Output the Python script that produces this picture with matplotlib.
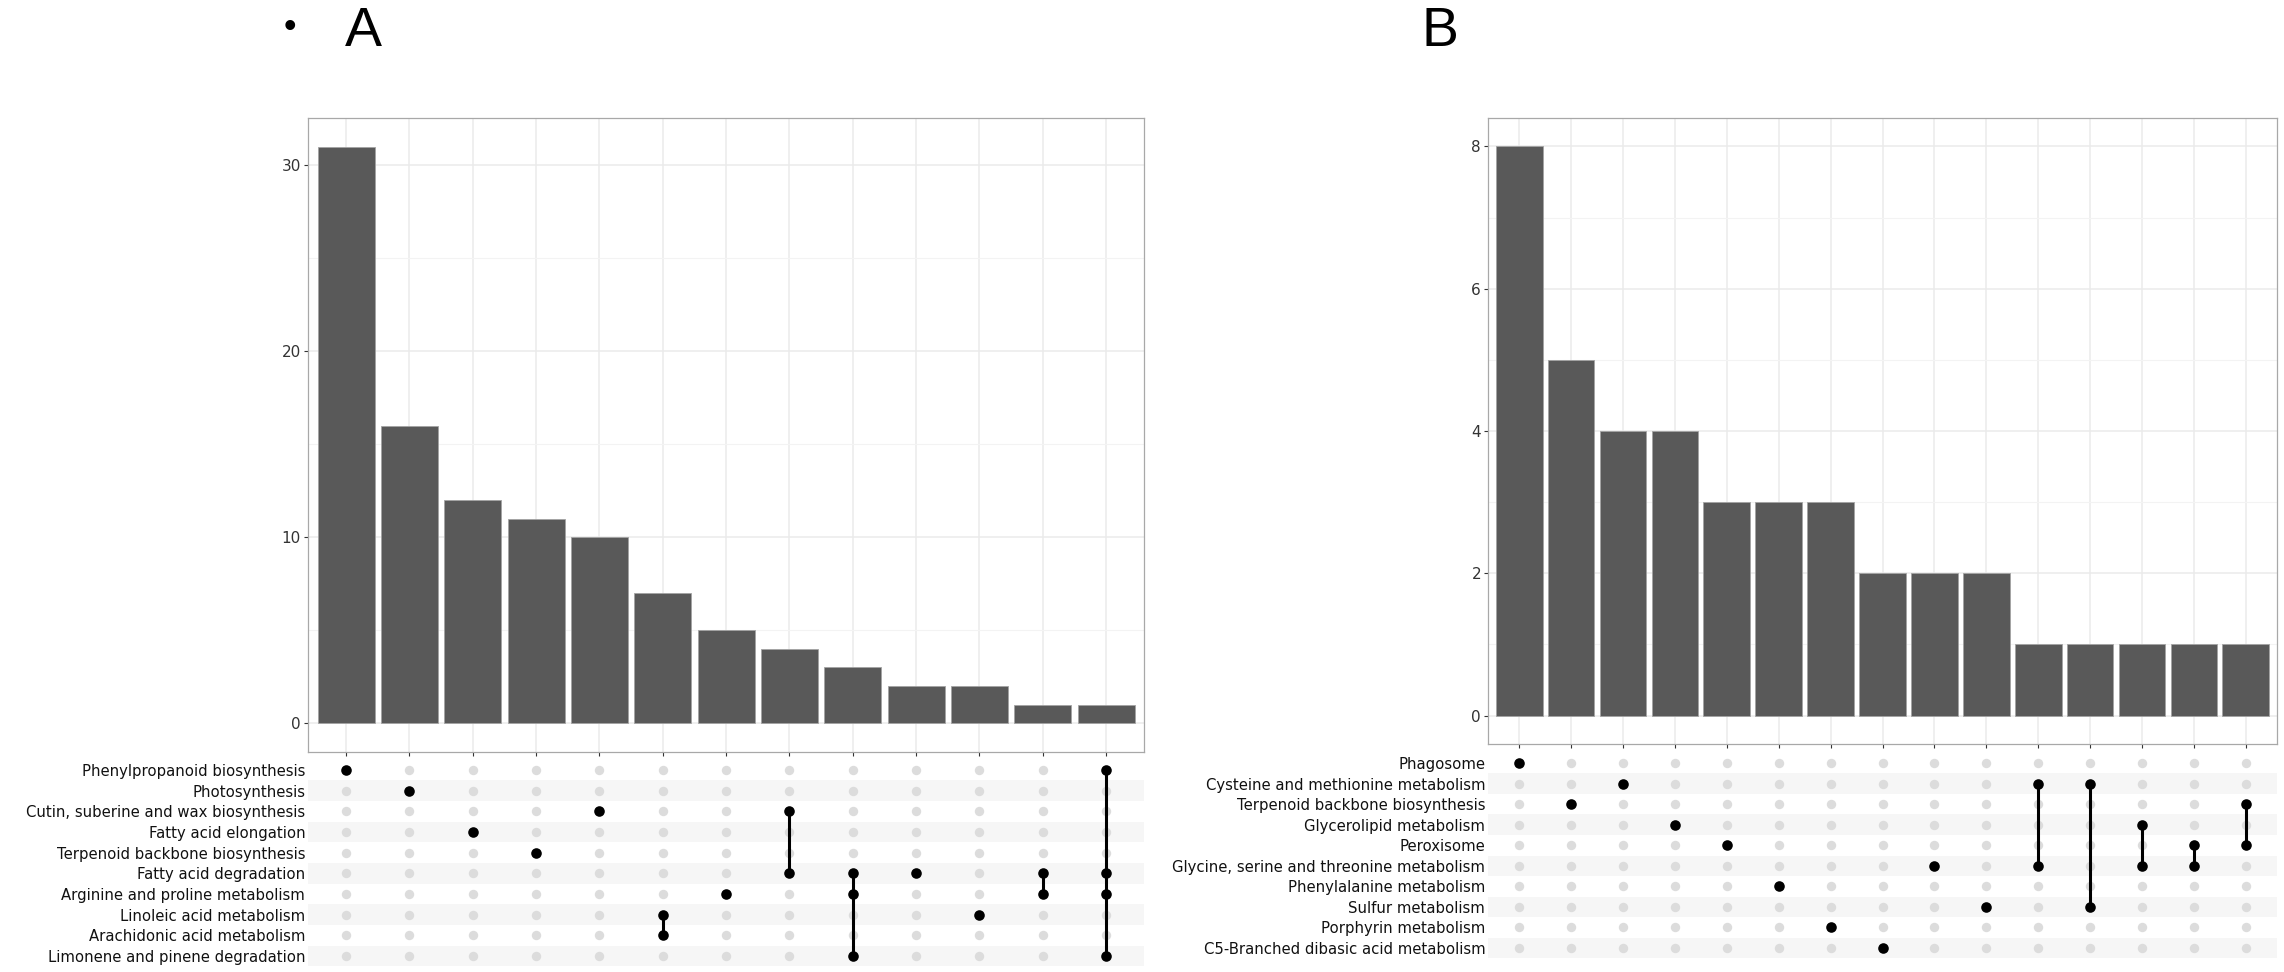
import numpy as np
import matplotlib
matplotlib.use("Agg")
import matplotlib.pyplot as plt
from matplotlib.ticker import MultipleLocator

W, H = 2284, 972

# panel A data
sets_a = ["Phenylpropanoid biosynthesis", "Photosynthesis",
          "Cutin, suberine and wax biosynthesis", "Fatty acid elongation",
          "Terpenoid backbone biosynthesis", "Fatty acid degradation",
          "Arginine and proline metabolism", "Linoleic acid metabolism",
          "Arachidonic acid metabolism", "Limonene and pinene degradation"]
counts_a = [31, 16, 12, 11, 10, 7, 5, 4, 3, 2, 2, 1, 1]
members_a = [[0], [1], [3], [4], [2], [7, 8], [6], [2, 5], [5, 6, 9],
             [5], [7], [5, 6], [0, 5, 6, 9]]

# panel B data
sets_b = ["Phagosome", "Cysteine and methionine metabolism",
          "Terpenoid backbone biosynthesis", "Glycerolipid metabolism",
          "Peroxisome", "Glycine, serine and threonine metabolism",
          "Phenylalanine metabolism", "Sulfur metabolism",
          "Porphyrin metabolism", "C5-Branched dibasic acid metabolism"]
counts_b = [8, 5, 4, 4, 3, 3, 3, 2, 2, 2, 1, 1, 1, 1, 1]
members_b = [[0], [2], [1], [3], [4], [6], [8], [9], [5], [7],
             [1, 5], [1, 7], [3, 5], [4, 5], [2, 4]]

GRID = "#ebebeb"
BORDER = "#a8a8a8"
TXT = "#333333"


def px_axes(fig, x0, y0, x1, y1):
    # pixel box (top-left origin) -> figure axes
    return fig.add_axes([x0 / W, 1 - y1 / H, (x1 - x0) / W, (y1 - y0) / H])


def upset_panel(fig, bar_box, mat_box, counts, members, sets, major, minor):
    n = len(counts)
    top = max(counts)

    ax = px_axes(fig, *bar_box)
    ax.bar(range(n), counts, width=0.9, color="#595959",
           edgecolor="#a3a3a3", linewidth=0.6, zorder=3)
    ax.set_xlim(-0.6, n - 0.4)
    ax.set_ylim(-0.05 * top, 1.05 * top)
    ax.yaxis.set_major_locator(MultipleLocator(major))
    ax.yaxis.set_minor_locator(MultipleLocator(minor))
    ax.set_xticks(range(n))
    ax.set_xticklabels([])
    ax.grid(True, which="major", color=GRID, linewidth=1.1, zorder=0)
    ax.grid(True, which="minor", axis="y", color="#f3f3f3", linewidth=0.8, zorder=0)
    ax.tick_params(axis="y", which="minor", length=0)
    ax.tick_params(axis="both", which="major", length=3, width=0.8,
                   color=TXT, labelsize=11, labelcolor=TXT, pad=2)
    for s in ax.spines.values():
        s.set_color(BORDER)
        s.set_linewidth(0.9)
    ax.set_axisbelow(True)

    mx = px_axes(fig, *mat_box)
    m = len(sets)
    mx.set_xlim(-0.6, n - 0.4)
    mx.set_ylim(m - 0.5, -0.5)
    for r in range(m):
        if r % 2 == 1:
            mx.axhspan(r - 0.5, r + 0.5, color="#f6f6f6", zorder=0, lw=0)
    xs, ys = np.meshgrid(np.arange(n), np.arange(m))
    mx.scatter(xs.ravel(), ys.ravel(), s=46, color="#dcdcdc", zorder=1, lw=0)
    for c, rows in enumerate(members):
        if len(rows) > 1:
            mx.plot([c, c], [min(rows), max(rows)], color="black", lw=2.2, zorder=2)
        mx.scatter([c] * len(rows), rows, s=58, color="black", zorder=3, lw=0)
    mx.set_yticks(range(m))
    mx.set_yticklabels(sets, fontsize=10.7, color="#111111")
    mx.set_xticks([])
    mx.tick_params(axis="y", length=0, pad=2)
    for s in mx.spines.values():
        s.set_visible(False)
    return ax, mx


fig = plt.figure(figsize=(W / 100, H / 100), dpi=100)
fig.patch.set_facecolor("white")

upset_panel(fig, (308, 118, 1144, 752), (308, 759.6, 1144, 966.4),
            counts_a, members_a, sets_a, 10, 5)
upset_panel(fig, (1488, 118, 2277, 744), (1488, 752.7, 2277, 958.3),
            counts_b, members_b, sets_b, 2, 1)

fig.text(290 / W, 1 - 27 / H, "\u2022", fontsize=26, ha="center", va="center",
         family="Liberation Sans")
fig.text(345 / W, 1 - 46 / H, "A", fontsize=40, ha="left", va="baseline",
         family="Liberation Sans")
fig.text(1422 / W, 1 - 46 / H, "B", fontsize=40, ha="left", va="baseline",
         family="Liberation Sans")

fig.savefig("out.png", dpi=100, facecolor="white")
